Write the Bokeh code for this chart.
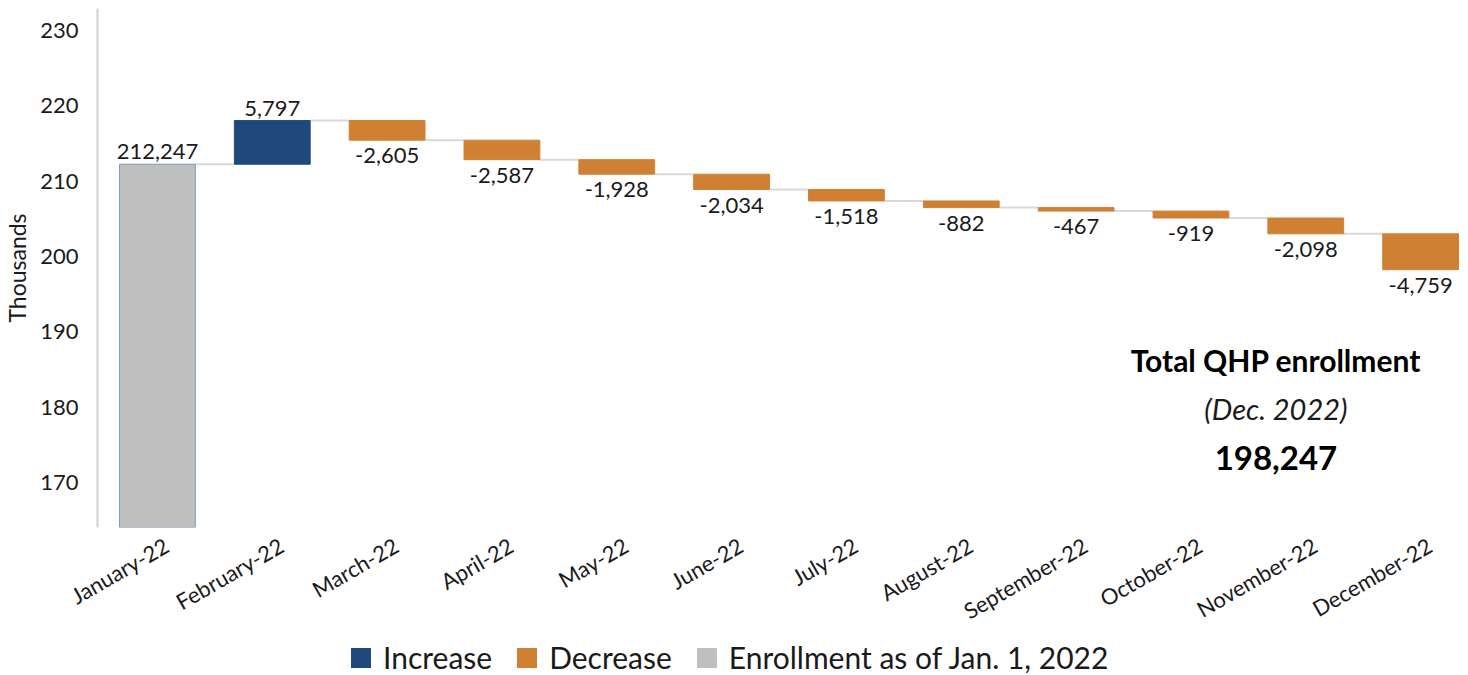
import numpy as np
from math import pi
from bokeh.plotting import figure
from bokeh.layouts import column
from bokeh.models import (ColumnDataSource, Range1d, FixedTicker, Label,
                          Legend, LegendItem)
from bokeh.core.properties import value
from bokeh.embed import file_html
from bokeh.resources import INLINE

# ---- data ----
months = ["January-22", "February-22", "March-22", "April-22", "May-22", "June-22",
          "July-22", "August-22", "September-22", "October-22", "November-22", "December-22"]
start_enrollment = 212247
monthly_change = [5797, -2605, -2587, -1928, -2034, -1518, -882, -467, -919, -2098, -4759]
final_enrollment = 198247
y_ticks = [170, 180, 190, 200, 210, 220, 230]

FONT = "Lato"
TXT = "#1a1a1a"
GRAY = "#bfbfbf"
BLUE = "#1f497d"
ORANGE = "#cf8033"

idx = np.arange(len(months))
ends = np.cumsum([start_enrollment] + monthly_change) / 1000.0
starts = np.concatenate([[0.0], ends[:-1]])
tops = np.maximum(starts, ends)
bottoms = np.minimum(starts, ends)
vals = [start_enrollment] + monthly_change
labels = [f"{v:,}" for v in vals]

X_RANGE = (-0.522, 11.417)
p = figure(width=1468, height=639, output_backend="svg", toolbar_location=None,
           x_range=Range1d(*X_RANGE), y_range=Range1d(164.02, 232.92),
           min_border_left=95, min_border_right=0, min_border_top=8, min_border_bottom=105)
p.outline_line_color = None
p.grid.visible = False
p.background_fill_color = "white"
p.border_fill_color = "white"

# connectors
cx0 = idx[:-1] + 0.33
cx1 = idx[1:] - 0.33
p.segment(x0=cx0, y0=ends[:-1], x1=cx1, y1=ends[:-1], line_color="#d9d9d9", line_width=2)

W = 0.66
first = ColumnDataSource(dict(x=idx[:1], top=tops[:1], bottom=bottoms[:1]))
inc_mask = np.array([False] + [c > 0 for c in monthly_change])
dec_mask = np.array([False] + [c < 0 for c in monthly_change])
inc = ColumnDataSource(dict(x=idx[inc_mask], top=tops[inc_mask], bottom=bottoms[inc_mask]))
dec = ColumnDataSource(dict(x=idx[dec_mask], top=tops[dec_mask], bottom=bottoms[dec_mask]))

p.vbar(x="x", top="top", bottom="bottom", width=W, source=first,
       fill_color=GRAY, line_color="#7d97c2", line_width=1)
p.vbar(x="x", top="top", bottom="bottom", width=W, source=inc,
       fill_color=BLUE, line_color=BLUE)
p.vbar(x="x", top="top", bottom="bottom", width=W, source=dec,
       fill_color=ORANGE, line_color=ORANGE)

# value labels
pos_mask = np.array([True] + [c > 0 for c in monthly_change])
pos = ColumnDataSource(dict(x=idx[pos_mask], y=tops[pos_mask],
                            label=[l for l, m in zip(labels, pos_mask) if m]))
neg = ColumnDataSource(dict(x=idx[~pos_mask], y=bottoms[~pos_mask],
                            label=[l for l, m in zip(labels, pos_mask) if not m]))
p.text(x="x", y="y", text="label", source=pos, text_align="center", text_baseline="bottom",
       y_offset=-5, text_font=value(FONT), text_font_size="22px", text_color=TXT)
p.text(x="x", y="y", text="label", source=neg, text_align="center", text_baseline="top",
       y_offset=8, text_font=value(FONT), text_font_size="22px", text_color=TXT)

# axes
p.yaxis.ticker = FixedTicker(ticks=y_ticks)
p.yaxis.axis_line_color = "#d0d0d0"
p.yaxis.axis_line_width = 2
p.yaxis.major_tick_line_color = None
p.yaxis.minor_tick_line_color = None
p.yaxis.major_label_text_font = FONT
p.yaxis.major_label_text_font_size = "22px"
p.yaxis.major_label_text_color = TXT
p.yaxis.major_label_standoff = 13
p.yaxis.axis_label = "Thousands"
p.yaxis.axis_label_text_font = FONT
p.yaxis.axis_label_text_font_size = "23px"
p.yaxis.axis_label_text_font_style = "normal"
p.yaxis.axis_label_text_color = TXT
p.yaxis.axis_label_standoff = 6

# month labels sit a little right of the bar centres, as in the original
LABEL_SHIFT = 0.08
x_ticks = [float(i) + LABEL_SHIFT for i in idx]
p.xaxis.ticker = FixedTicker(ticks=x_ticks)
p.xaxis.major_label_overrides = {t: m for t, m in zip(x_ticks, months)}
p.xaxis.axis_line_color = None
p.xaxis.major_tick_line_color = None
p.xaxis.minor_tick_line_color = None
p.xaxis.major_label_orientation = pi / 6
p.xaxis.major_label_text_font = FONT
p.xaxis.major_label_text_font_size = "22px"
p.xaxis.major_label_text_color = TXT
p.xaxis.major_label_text_align = "right"
p.xaxis.major_label_text_baseline = "top"
p.xaxis.major_label_standoff = 10

# total annotation
p.add_layout(Label(x=9.74, y=186.2, text="Total QHP enrollment", text_align="center",
                   text_baseline="middle", text_font=FONT, text_font_size="30px",
                   text_font_style="bold", text_color="black"))
p.add_layout(Label(x=9.74, y=179.8, text="(Dec. 2022)", text_align="center",
                   text_baseline="middle", text_font=FONT, text_font_size="29px",
                   text_font_style="italic", text_color=TXT))
p.add_layout(Label(x=9.74, y=173.2, text=f"{final_enrollment:,}", text_align="center",
                   text_baseline="middle", text_font=FONT, text_font_size="33px",
                   text_font_style="bold", text_color="black"))

# legend strip: renderers share the chart's sources as zero-size bars lying outside
# this strip's 0..1 view, so only the legend shows
lg = figure(width=1468, height=36, output_backend="svg", toolbar_location=None,
            x_range=Range1d(*X_RANGE), y_range=Range1d(0, 1), x_axis_type=None,
            y_axis_type=None, min_border=0)
lg.outline_line_color = None
lg.grid.visible = False
r_inc = lg.vbar(x="x", top="top", bottom="top", width=0, source=inc,
                fill_color=BLUE, line_color=None)
r_dec = lg.vbar(x="x", top="top", bottom="top", width=0, source=dec,
                fill_color=ORANGE, line_color=None)
r_start = lg.vbar(x="x", top="top", bottom="top", width=0, source=first,
                  fill_color=GRAY, line_color=None)
legend = Legend(items=[LegendItem(label="Increase", renderers=[r_inc]),
                       LegendItem(label="Decrease", renderers=[r_dec]),
                       LegendItem(label="Enrollment as of Jan. 1, 2022", renderers=[r_start])],
                orientation="horizontal", location=(251, 0),
                label_text_font=FONT, label_text_font_size="30px", label_text_color=TXT,
                glyph_width=25, glyph_height=25, label_standoff=10, spacing=22,
                border_line_color=None, background_fill_alpha=0, padding=0, margin=0)
lg.add_layout(legend, "center")

open("out.html", "w").write(file_html(column(p, lg, spacing=0), INLINE))
